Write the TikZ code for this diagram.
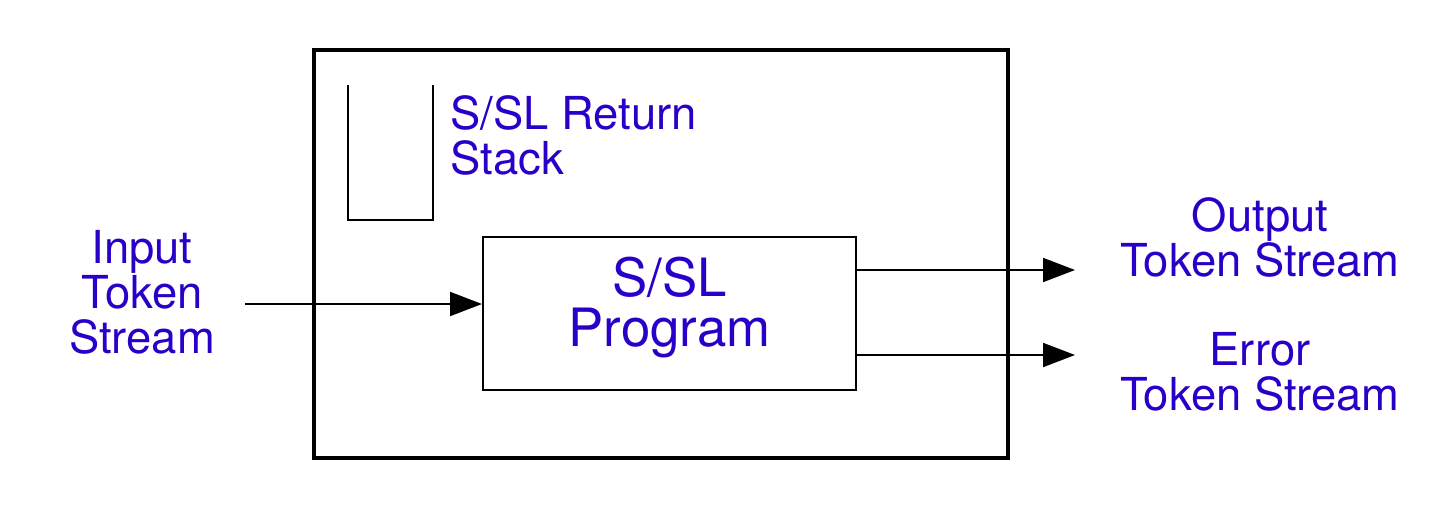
\documentclass[tikz,border=0pt]{standalone}
\usepackage{fontspec}
\setmainfont{TeX Gyre Heros}
\usepackage{tikz}
\usetikzlibrary{arrows.meta}
\definecolor{labelblue}{RGB}{40,0,200}

\begin{document}
\begin{tikzpicture}[x=0.5pt,y=-0.5pt,
  lbl/.style={text=labelblue,font=\fontsize{22.7}{22.5}\selectfont,align=center,inner sep=0pt},
  flow/.style={-{Triangle[length=16pt,width=12pt]},line width=1pt}]

\useasboundingbox (0,0) rectangle (1441,515);

% Outer box of the parser
\draw[line width=2pt] (314,50) rectangle (1008,458);

% Return stack, open at the top
\draw[line width=1pt] (348,85) -- (348,220) -- (433,220) -- (433,85);
\node[lbl,align=left,anchor=west] (stack) at (450,135) {S/SL Return\\Stack};

% Program box in the middle
\node[draw,line width=1pt,minimum width=186.5pt,minimum height=76.5pt]
  (prog) at (669.5,313.5) {};
\node[lbl,font=\fontsize{26.4}{25}\selectfont] (progtext) at (669.5,308) {S/SL\\Program};

% Input side
\node[lbl] (input) at (142,292) {Input\\Token\\Stream};
\coordinate (inend) at (245,304);
\draw[flow] (inend) -- (inend -| prog.west);

% Output side
\coordinate (outend) at (1075,270);
\coordinate (errend) at (1075,355);
\draw[flow] (outend -| prog.east) -- (outend);
\draw[flow] (errend -| prog.east) -- (errend);
\node[lbl] (output) at (1260,237) {Output\\Token Stream};
\node[lbl] (error) at (1260,372) {Error\\Token Stream};

\end{tikzpicture}
\end{document}
